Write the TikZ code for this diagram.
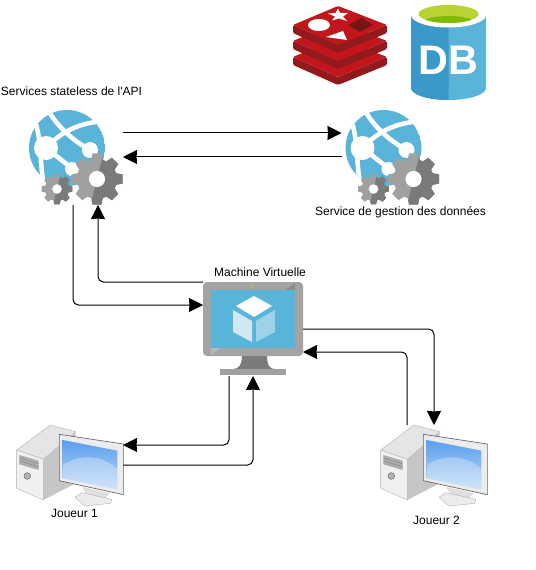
\documentclass[tikz,border=0pt]{standalone}
\usepackage{fontspec}
\usetikzlibrary{arrows.meta,calc}
\newfontfamily\dfont{Liberation Sans}
\definecolor{azure}{HTML}{59B4D9}
\definecolor{azuredk}{HTML}{3A99C9}
\definecolor{gearlt}{HTML}{A0A0A0}
\definecolor{geardk}{HTML}{7A7A7A}
\definecolor{redtop}{HTML}{C2161C}
\definecolor{redside}{HTML}{931A1C}
\definecolor{cubelt}{HTML}{CFE8F4}
\definecolor{cubemd}{HTML}{9FD2E8}
\definecolor{dbrim}{HTML}{B8D432}
\definecolor{dbin}{HTML}{7FBA00}
\definecolor{screentop}{HTML}{5A9FEE}
\definecolor{screenbot}{HTML}{BCD7F6}
\newcommand{\gearshape}[4]{% cx cy ro ri
  (#1,#2) ++({-10}:#3) foreach \i in {0,...,7}{ -- ($(#1,#2)+({\i*45-10}:#3)$) -- ($(#1,#2)+({\i*45+10}:#3)$) -- ($(#1,#2)+({\i*45+17}:#4)$) -- ($(#1,#2)+({\i*45+28}:#4)$)} -- cycle}
\tikzset{
  x=0.75pt,y=-0.75pt,
  iconbox/.style={minimum width=#1,inner sep=0pt,outer sep=0pt},
  dlabel/.style={font=\dfont\fontsize{9}{11}\selectfont,inner sep=0pt},
  link/.style={draw=black,line width=0.75pt,rounded corners=4pt,-{Stealth[length=10.5pt,width=10.5pt,inset=0.3pt]}},
  pics/gear/.style n args={4}{code={
    \fill[gearlt] \gearshape{#1}{#2}{#3}{#4};
    \begin{scope}
      \clip (#1+0.3*#3,#2-1.2*#3) -- (#1-0.3*#3,#2+1.2*#3) -- (#1+1.3*#3,#2+1.2*#3) -- (#1+1.3*#3,#2-1.2*#3) -- cycle;
      \fill[geardk] \gearshape{#1}{#2}{#3}{#4};
    \end{scope}
    \fill[white] (#1,#2) circle[radius=0.31*#3];
  }},
  pics/webapp/.style={code={
    \begin{scope}
      \clip (0,0) circle[radius=38];
      \fill[azure] (0,0) circle[radius=38];
      \draw[white,line width=3.4pt] (-19,-38) .. controls (-10,-22) and (5,-8) .. (23,2);
      \draw[white,line width=3.4pt] (40,-27) .. controls (10,-26) and (-8,-14) .. (-21,0);
      \draw[white,line width=3.4pt] (-31,-24) .. controls (-26,-6) and (-27,12) .. (-24,32);
      \draw[white,line width=3.4pt] (-21,0) -- (6,21);
    \end{scope}
    \fill[white] (-21,0) circle[radius=12];
    \fill[white] (23,2) circle[radius=8];
    \fill[white] (5,21) circle[radius=7];
    \pic {gear={30}{31}{26}{20}};
    \pic {gear={-10}{41}{15.5}{12}};
  }},
  pics/desktop/.style={code={
    \begin{scope}[x=0.25pt,y=-0.25pt]
      \fill[gray!45] (100,118) -- (197,35) -- (197,190) -- (100,240) -- cycle;
      \filldraw[fill=gray!20,draw=gray!60,line width=0.3pt] (20,90) -- (120,15) -- (197,35) -- (100,118) -- cycle;
      \filldraw[fill=gray!12,draw=gray!60,line width=0.3pt] (20,90) -- (100,118) -- (100,240) -- (20,205) -- cycle;
      \fill[gray!65] (28,105) -- (86,122) -- (86,150) -- (28,133) -- cycle;
      \draw[gray!90,line width=0.4pt] (28,114) -- (86,131) (28,123) -- (86,140);
      \filldraw[fill=gray!60,draw=gray!90!black,line width=0.4pt] (52,168) circle[radius=10];
      \fill[gray!25] (215,200) -- (300,220) -- (280,240) -- (235,232) -- cycle;
      \filldraw[fill=gray!15,draw=gray!60,line width=0.3pt] (195,232) -- (215,218) -- (305,238) -- (302,250) -- (225,258) -- cycle;
      \filldraw[fill=gray!15,draw=gray!80!black,line width=0.5pt] (148,43) -- (340,72) -- (340,224) -- (148,182) -- cycle;
      \shade[top color=screentop,bottom color=screenbot] (158,60) -- (322,92) -- (322,208) -- (158,175) -- cycle;
      \fill[white,opacity=0.3] (160,135) .. controls (210,100) and (280,105) .. (322,148) -- (322,208) -- (158,175) -- cycle;
    \end{scope}
  }}
}
\begin{document}
\begin{tikzpicture}
\useasboundingbox (0,0) rectangle (535,570);
% redis
\foreach \dy in {32,16,0}{
  \fill[redside,rounded corners=1pt] (293,{25+\dy}) -- (338,{45+\dy}) -- (387,{25+\dy}) -- (387,{33+\dy}) -- (338,{53+\dy}) -- (293,{33+\dy}) -- cycle;
  \fill[redtop,rounded corners=1pt] (293,{25+\dy}) -- (338,{6+\dy}) -- (387,{25+\dy}) -- (338,{45+\dy}) -- cycle;
}
\fill[white] (319,25) ellipse[x radius=11,y radius=6];
\fill[white] (338,8.5) -- (340.2,13) -- (348,13) -- (343,16.5) -- (347,21) -- (339,18.5) -- (332,20.5) -- (335,16.5) -- (328,13.5) -- (335.5,13) -- cycle;
\fill[white] (326,37) -- (343,31) -- (347,40) -- cycle;
\fill[redside!80!black] (348,25) -- (362,18) -- (373,25) -- (360,32) -- cycle;
% database
\fill[azure] (411,15) rectangle (486,88);
\fill[azure] (448.5,88) ellipse[x radius=37.5,y radius=12];
\begin{scope}
  \clip (411,0) rectangle (448.5,102);
  \fill[azuredk] (411,15) rectangle (486,88);
  \fill[azuredk] (448.5,88) ellipse[x radius=37.5,y radius=12];
\end{scope}
\fill[white] (448.5,15) ellipse[x radius=37.5,y radius=12.5];
\fill[dbrim] (448.5,14) ellipse[x radius=30,y radius=9];
\begin{scope}
  \clip (448.5,14) ellipse[x radius=30,y radius=9];
  \fill[dbin] (448.5,23) ellipse[x radius=26,y radius=7];
\end{scope}
\node[white,inner sep=0pt,font=\dfont\bfseries\fontsize{31}{31}\selectfont] (dbtext) at (448.5,60) {DB};
% webapp icons
\pic at (67,148) {webapp};
\pic at (383.5,148) {webapp};
% vm
\fill[geardk] (242,355) -- (267,355) .. controls (267,366) and (270,369) .. (275,369) -- (233,369) .. controls (238,369) and (242,366) .. (242,355) -- cycle;
\fill[gearlt] (220,369) rectangle (286,375);
\fill[gray!72,rounded corners=3pt] (203,282) rectangle (303,356);
\fill[gray!55] (211,348) -- (221,348) -- (211,355) -- cycle;
\fill[gray!90] (285,290) -- (295,290) -- (295,283) -- cycle;
\fill[azure] (211,290) rectangle (295,348);
\fill[dbrim] (252.5,286) circle[radius=1.2];
\fill[white] (236,306) -- (254,296) -- (272,306) -- (254,317) -- cycle;
\fill[cubelt] (233,310) -- (252,321) -- (252,342) -- (233,332) -- cycle;
\fill[cubemd] (256,321) -- (275,310) -- (275,332) -- (256,342) -- cycle;
% desktops
\pic at (10,420) {desktop};
\pic at (374,420) {desktop};
% invisible icon boxes
\path (75.5,157) node[iconbox=71.25pt,minimum height=72pt] (api) {};
\path (391,157) node[iconbox=74.25pt,minimum height=72pt] (data) {};
\path (253,329) node[iconbox=75pt,minimum height=70.5pt] (vm) {};
\path (70,465) node[iconbox=79.5pt,minimum height=60pt] (j1) {};
\path (434,465) node[iconbox=81pt,minimum height=60pt] (j2) {};
% connectors
\draw[link] ($(api.east)+(0,-24)$) -- ($(data.west)+(0,-24)$);
\draw[link] (data.west) -- (api.east);
\draw[link] ($(api.south)+(-2.5,0)$) |- ($(vm.west)+(0,-24)$);
\draw[link] ($(vm.north west)$) -| ($(api.south)+(22.5,0)$);
\draw[link] (vm.east) -| (j2.north);
\draw[link] ($(j2.north)+(-27,0)$) |- ($(vm.east)+(0,23)$);
\draw[link] ($(vm.south)+(-24,0)$) |- ($(j1.east)+(0,-20)$);
\draw[link] (j1.east) -| (vm.south);
% labels
\node[dlabel] (lapi) at (71.5,91.5) {Services stateless de l'API};
\node[dlabel] (ldata) at (400.5,212) {Service de gestion des données};
\node[dlabel] (lvm) at (260,272) {Machine Virtuelle};
\node[dlabel] (lj1) at (74.5,513) {Joueur 1};
\node[dlabel] (lj2) at (436.5,520) {Joueur 2};
\end{tikzpicture}
\end{document}
